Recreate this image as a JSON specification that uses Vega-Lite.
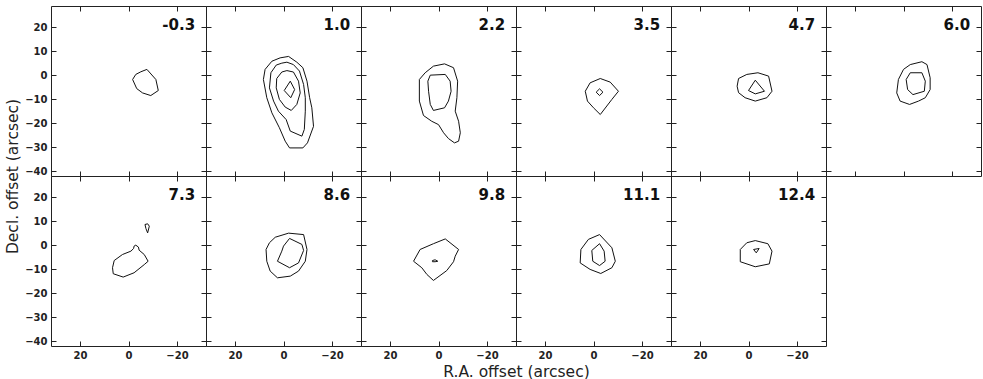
{
"$schema":"https://vega.github.io/schema/vega-lite/v6.json",
"background":"white",
"padding":{"left":5,"top":5,"right":0,"bottom":0},
"datasets":{"contours":[
{"ch":"-0.3","c":1,"x":-7.6,"y":2.4},{"ch":"-0.3","c":1,"x":-11.3,"y":-1.8},{"ch":"-0.3","c":1,"x":-12.3,"y":-6.4},{"ch":"-0.3","c":1,"x":-9.2,"y":-8.5},{"ch":"-0.3","c":1,"x":-5.8,"y":-7.4},{"ch":"-0.3","c":1,"x":-3.4,"y":-5.6},{"ch":"-0.3","c":1,"x":-1.7,"y":-1.8},{"ch":"-0.3","c":1,"x":-3.0,"y":0.3},{"ch":"-0.3","c":1,"x":-5.1,"y":1.4},
{"ch":"1.0","c":1,"x":-2.1,"y":7.8},{"ch":"1.0","c":1,"x":-5.5,"y":5.4},{"ch":"1.0","c":1,"x":-8.0,"y":3.1},{"ch":"1.0","c":1,"x":-9.7,"y":-2.5},{"ch":"1.0","c":1,"x":-10.8,"y":-9.4},{"ch":"1.0","c":1,"x":-11.7,"y":-13.6},{"ch":"1.0","c":1,"x":-12.4,"y":-21.3},{"ch":"1.0","c":1,"x":-9.9,"y":-28.2},{"ch":"1.0","c":1,"x":-8.0,"y":-30.3},{"ch":"1.0","c":1,"x":-2.5,"y":-30.3},{"ch":"1.0","c":1,"x":-0.7,"y":-27.5},{"ch":"1.0","c":1,"x":1.7,"y":-21.9},{"ch":"1.0","c":1,"x":4.8,"y":-15.7},{"ch":"1.0","c":1,"x":6.9,"y":-9.4},{"ch":"1.0","c":1,"x":8.3,"y":-1.8},{"ch":"1.0","c":1,"x":7.6,"y":2.4},{"ch":"1.0","c":1,"x":4.8,"y":5.8},{"ch":"1.0","c":1,"x":1.4,"y":7.2},
{"ch":"1.0","c":2,"x":-1.4,"y":5.4},{"ch":"1.0","c":2,"x":-4.1,"y":4.4},{"ch":"1.0","c":2,"x":-6.6,"y":1.7},{"ch":"1.0","c":2,"x":-8.3,"y":-3.9},{"ch":"1.0","c":2,"x":-9.0,"y":-9.4},{"ch":"1.0","c":2,"x":-9.0,"y":-15.0},{"ch":"1.0","c":2,"x":-8.6,"y":-22.6},{"ch":"1.0","c":2,"x":-7.6,"y":-25.4},{"ch":"1.0","c":2,"x":-2.8,"y":-23.3},{"ch":"1.0","c":2,"x":-1.1,"y":-18.5},{"ch":"1.0","c":2,"x":2.1,"y":-15.0},{"ch":"1.0","c":2,"x":4.1,"y":-10.8},{"ch":"1.0","c":2,"x":5.8,"y":-5.3},{"ch":"1.0","c":2,"x":5.2,"y":1.0},{"ch":"1.0","c":2,"x":3.0,"y":4.2},{"ch":"1.0","c":2,"x":0.7,"y":5.0},
{"ch":"1.0","c":3,"x":-1.4,"y":1.9},{"ch":"1.0","c":3,"x":-4.1,"y":1.3},{"ch":"1.0","c":3,"x":-6.2,"y":-2.5},{"ch":"1.0","c":3,"x":-6.9,"y":-7.4},{"ch":"1.0","c":3,"x":-5.5,"y":-12.2},{"ch":"1.0","c":3,"x":-3.2,"y":-14.7},{"ch":"1.0","c":3,"x":-0.7,"y":-13.3},{"ch":"1.0","c":3,"x":1.7,"y":-10.1},{"ch":"1.0","c":3,"x":3.0,"y":-5.3},{"ch":"1.0","c":3,"x":2.8,"y":-1.4},{"ch":"1.0","c":3,"x":0.7,"y":1.3},
{"ch":"1.0","c":4,"x":-2.8,"y":-2.5},{"ch":"1.0","c":4,"x":-4.6,"y":-6.0},{"ch":"1.0","c":4,"x":-3.0,"y":-9.4},{"ch":"1.0","c":4,"x":-0.3,"y":-6.4},
{"ch":"2.2","c":1,"x":2.1,"y":3.75},{"ch":"2.2","c":1,"x":-2.5,"y":4.7},{"ch":"2.2","c":1,"x":-6.2,"y":3.1},{"ch":"2.2","c":1,"x":-7.9,"y":-2.5},{"ch":"2.2","c":1,"x":-7.6,"y":-9.4},{"ch":"2.2","c":1,"x":-6.9,"y":-15.0},{"ch":"2.2","c":1,"x":-8.3,"y":-19.2},{"ch":"2.2","c":1,"x":-9.0,"y":-24.0},{"ch":"2.2","c":1,"x":-8.3,"y":-27.5},{"ch":"2.2","c":1,"x":-6.6,"y":-28.2},{"ch":"2.2","c":1,"x":-4.1,"y":-26.4},{"ch":"2.2","c":1,"x":-2.1,"y":-24.0},{"ch":"2.2","c":1,"x":0,"y":-20.6},{"ch":"2.2","c":1,"x":2.8,"y":-19.2},{"ch":"2.2","c":1,"x":6.2,"y":-16.8},{"ch":"2.2","c":1,"x":7.9,"y":-10.8},{"ch":"2.2","c":1,"x":7.9,"y":-1.8},{"ch":"2.2","c":1,"x":5.5,"y":1.0},
{"ch":"2.2","c":2,"x":3.4,"y":0},{"ch":"2.2","c":2,"x":-2.8,"y":0.3},{"ch":"2.2","c":2,"x":-4.8,"y":-2.5},{"ch":"2.2","c":2,"x":-5.2,"y":-6.7},{"ch":"2.2","c":2,"x":-4.1,"y":-10.8},{"ch":"2.2","c":2,"x":-2.5,"y":-13.6},{"ch":"2.2","c":2,"x":2.1,"y":-14.7},{"ch":"2.2","c":2,"x":3.4,"y":-12.2},{"ch":"2.2","c":2,"x":4.1,"y":-6.7},{"ch":"2.2","c":2,"x":4.4,"y":-2.5},
{"ch":"3.5","c":1,"x":-2.8,"y":-1.4},{"ch":"3.5","c":1,"x":-6.9,"y":-2.9},{"ch":"3.5","c":1,"x":-10.3,"y":-6.7},{"ch":"3.5","c":1,"x":-7.6,"y":-10.1},{"ch":"3.5","c":1,"x":-2.8,"y":-16.4},{"ch":"3.5","c":1,"x":0,"y":-13.6},{"ch":"3.5","c":1,"x":2.5,"y":-10.8},{"ch":"3.5","c":1,"x":3.4,"y":-6.7},{"ch":"3.5","c":1,"x":1.4,"y":-3.2},
{"ch":"3.5","c":2,"x":-2.5,"y":-5.7},{"ch":"3.5","c":2,"x":-3.9,"y":-7.1},{"ch":"3.5","c":2,"x":-2.5,"y":-8.5},{"ch":"3.5","c":2,"x":-1.1,"y":-7.1},
{"ch":"4.7","c":1,"x":4.1,"y":-1.4},{"ch":"4.7","c":1,"x":0.7,"y":0.3},{"ch":"4.7","c":1,"x":-3.9,"y":1.0},{"ch":"4.7","c":1,"x":-8.3,"y":-0.4},{"ch":"4.7","c":1,"x":-9.7,"y":-6.7},{"ch":"4.7","c":1,"x":-7.6,"y":-9.4},{"ch":"4.7","c":1,"x":-2.8,"y":-10.8},{"ch":"4.7","c":1,"x":1.4,"y":-9.4},{"ch":"4.7","c":1,"x":4.1,"y":-7.3},{"ch":"4.7","c":1,"x":4.7,"y":-4.6},
{"ch":"4.7","c":2,"x":-2.8,"y":-2.1},{"ch":"4.7","c":2,"x":-6.6,"y":-6.7},{"ch":"4.7","c":2,"x":-2.8,"y":-7.8},{"ch":"4.7","c":2,"x":0,"y":-6.4},
{"ch":"6.0","c":1,"x":-2.8,"y":4.4},{"ch":"6.0","c":1,"x":-7.6,"y":5.6},{"ch":"6.0","c":1,"x":-9.7,"y":4.4},{"ch":"6.0","c":1,"x":-11.0,"y":-1.1},{"ch":"6.0","c":1,"x":-11.0,"y":-6.0},{"ch":"6.0","c":1,"x":-9.0,"y":-9.4},{"ch":"6.0","c":1,"x":-6.2,"y":-10.8},{"ch":"6.0","c":1,"x":-2.5,"y":-12.2},{"ch":"6.0","c":1,"x":1.4,"y":-10.8},{"ch":"6.0","c":1,"x":2.8,"y":-7.4},{"ch":"6.0","c":1,"x":2.1,"y":-1.8},{"ch":"6.0","c":1,"x":0,"y":2.4},
{"ch":"6.0","c":2,"x":-2.8,"y":1.0},{"ch":"6.0","c":2,"x":-7.6,"y":1.0},{"ch":"6.0","c":2,"x":-9.0,"y":-2.5},{"ch":"6.0","c":2,"x":-8.6,"y":-6.7},{"ch":"6.0","c":2,"x":-3.9,"y":-8.1},{"ch":"6.0","c":2,"x":-1.7,"y":-6.0},{"ch":"6.0","c":2,"x":-1.1,"y":-1.8},
{"ch":"7.3","c":1,"x":-2.3,"y":-0.4},{"ch":"7.3","c":1,"x":-3.0,"y":0},{"ch":"7.3","c":1,"x":-4.1,"y":-0.8},{"ch":"7.3","c":1,"x":-4.4,"y":-2.1},{"ch":"7.3","c":1,"x":-6.5,"y":-3.9},{"ch":"7.3","c":1,"x":-8.1,"y":-6.7},{"ch":"7.3","c":1,"x":-6.5,"y":-8.1},{"ch":"7.3","c":1,"x":-2.3,"y":-11.5},{"ch":"7.3","c":1,"x":2.2,"y":-13.3},{"ch":"7.3","c":1,"x":6.3,"y":-11.9},{"ch":"7.3","c":1,"x":6.6,"y":-9.4},{"ch":"7.3","c":1,"x":5.9,"y":-6.4},{"ch":"7.3","c":1,"x":2.5,"y":-3.9},{"ch":"7.3","c":1,"x":-1.0,"y":-2.5},{"ch":"7.3","c":1,"x":-2.1,"y":-1.4},
{"ch":"7.3","c":2,"x":-6.8,"y":8.6},{"ch":"7.3","c":2,"x":-7.9,"y":8.9},{"ch":"7.3","c":2,"x":-8.6,"y":7.9},{"ch":"7.3","c":2,"x":-7.9,"y":5.1},{"ch":"7.3","c":2,"x":-7.2,"y":6.9},
{"ch":"8.6","c":1,"x":3.4,"y":3.3},{"ch":"8.6","c":1,"x":-2.1,"y":5.0},{"ch":"8.6","c":1,"x":-8.3,"y":4.4},{"ch":"8.6","c":1,"x":-9.7,"y":-1.8},{"ch":"8.6","c":1,"x":-9.0,"y":-6.7},{"ch":"8.6","c":1,"x":-6.2,"y":-10.8},{"ch":"8.6","c":1,"x":-2.8,"y":-12.9},{"ch":"8.6","c":1,"x":2.5,"y":-13.6},{"ch":"8.6","c":1,"x":5.5,"y":-10.8},{"ch":"8.6","c":1,"x":6.9,"y":-6.7},{"ch":"8.6","c":1,"x":7.2,"y":-1.8},{"ch":"8.6","c":1,"x":5.8,"y":1.0},
{"ch":"8.6","c":2,"x":-2.5,"y":2.8},{"ch":"8.6","c":2,"x":-7.6,"y":0.3},{"ch":"8.6","c":2,"x":-8.3,"y":-2.2},{"ch":"8.6","c":2,"x":-6.2,"y":-7.4},{"ch":"8.6","c":2,"x":-2.5,"y":-9.4},{"ch":"8.6","c":2,"x":2.5,"y":-6.7},{"ch":"8.6","c":2,"x":0.7,"y":-2.5},{"ch":"8.6","c":2,"x":0,"y":-0.4},
{"ch":"9.8","c":1,"x":-2.8,"y":2.6},{"ch":"9.8","c":1,"x":-8.3,"y":-1.8},{"ch":"9.8","c":1,"x":-6.9,"y":-4.6},{"ch":"9.8","c":1,"x":-6.2,"y":-6.9},{"ch":"9.8","c":1,"x":-3.4,"y":-10.6},{"ch":"9.8","c":1,"x":2.1,"y":-14.7},{"ch":"9.8","c":1,"x":4.8,"y":-12.2},{"ch":"9.8","c":1,"x":6.9,"y":-9.4},{"ch":"9.8","c":1,"x":10.3,"y":-6.7},{"ch":"9.8","c":1,"x":7.6,"y":-1.8},{"ch":"9.8","c":1,"x":2.1,"y":0.6},
{"ch":"9.8","c":2,"x":2.5,"y":-6.4},{"ch":"9.8","c":2,"x":1.4,"y":-6.1},{"ch":"9.8","c":2,"x":0.3,"y":-6.7},{"ch":"9.8","c":2,"x":1.4,"y":-6.9},{"ch":"9.8","c":2,"x":2.5,"y":-6.9},
{"ch":"11.1","c":1,"x":-2.5,"y":4.4},{"ch":"11.1","c":1,"x":-7.6,"y":-1.1},{"ch":"11.1","c":1,"x":-9.0,"y":-6.7},{"ch":"11.1","c":1,"x":-7.6,"y":-9.4},{"ch":"11.1","c":1,"x":-3.0,"y":-11.8},{"ch":"11.1","c":1,"x":1.4,"y":-10.1},{"ch":"11.1","c":1,"x":5.5,"y":-7.4},{"ch":"11.1","c":1,"x":5.2,"y":-1.8},{"ch":"11.1","c":1,"x":2.1,"y":2.4},
{"ch":"11.1","c":2,"x":-2.5,"y":0.6},{"ch":"11.1","c":2,"x":-4.4,"y":-2.5},{"ch":"11.1","c":2,"x":-4.8,"y":-6.7},{"ch":"11.1","c":2,"x":-2.5,"y":-8.5},{"ch":"11.1","c":2,"x":0.3,"y":-6.7},{"ch":"11.1","c":2,"x":0.7,"y":-2.2},
{"ch":"12.4","c":1,"x":-2.8,"y":1.9},{"ch":"12.4","c":1,"x":-8.0,"y":0.6},{"ch":"12.4","c":1,"x":-9.7,"y":-2.5},{"ch":"12.4","c":1,"x":-8.6,"y":-7.8},{"ch":"12.4","c":1,"x":-2.8,"y":-9.0},{"ch":"12.4","c":1,"x":3.4,"y":-6.9},{"ch":"12.4","c":1,"x":3.4,"y":-1.8},{"ch":"12.4","c":1,"x":0.7,"y":1.0},
{"ch":"12.4","c":2,"x":-2.1,"y":-1.8},{"ch":"12.4","c":2,"x":-4.4,"y":-1.4},{"ch":"12.4","c":2,"x":-3.2,"y":-3.2}
]},
"columns":6,
"spacing":0,
"bounds":"flush",
"concat":[
{"width":155,"height":170,"layer":[
 {"data":{"name":"contours"},"transform":[{"filter":"datum.ch === '-0.3'"}],"mark":{"type":"line","interpolate":"linear-closed","color":"#111","strokeWidth":1},
  "encoding":{"x":{"field":"x","type":"quantitative","scale":{"domain":[-32,32],"reverse":true,"nice":false,"zero":false},"axis":{"orient":"bottom","values":[20,0,-20],"labels":false,"title":null}},
  "y":{"field":"y","type":"quantitative","scale":{"domain":[-42,28.8],"nice":false,"zero":false},"axis":{"orient":"left","values":[20,10,0,-10,-20,-30,-40],"labels":true,"title":null}},
  "detail":{"field":"c"},"order":{"value":null}}},
 {"data":{"values":[{"ch":"-0.3"}]},"mark":{"type":"text","align":"right","baseline":"middle","font":"DejaVu Sans","fontWeight":"bold","fontSize":15,"color":"#111"},
  "encoding":{"text":{"field":"ch","type":"nominal"},"x":{"datum":-27.5,"type":"quantitative","axis":{"orient":"top","values":[20,0,-20],"labels":false,"title":null}},"y":{"datum":21,"type":"quantitative","axis":{"orient":"right","values":[20,10,0,-10,-20,-30,-40],"labels":false,"title":null}}}}
],"resolve":{"axis":{"x":"independent","y":"independent"}}},
{"width":155,"height":170,"layer":[
 {"data":{"name":"contours"},"transform":[{"filter":"datum.ch === '1.0'"}],"mark":{"type":"line","interpolate":"linear-closed","color":"#111","strokeWidth":1},
  "encoding":{"x":{"field":"x","type":"quantitative","scale":{"domain":[-32,32],"reverse":true,"nice":false,"zero":false},"axis":{"orient":"bottom","values":[20,0,-20],"labels":false,"title":null}},
  "y":{"field":"y","type":"quantitative","scale":{"domain":[-42,28.8],"nice":false,"zero":false},"axis":{"orient":"left","values":[20,10,0,-10,-20,-30,-40],"labels":false,"title":null}},
  "detail":{"field":"c"},"order":{"value":null}}},
 {"data":{"values":[{"ch":"1.0"}]},"mark":{"type":"text","align":"right","baseline":"middle","font":"DejaVu Sans","fontWeight":"bold","fontSize":15,"color":"#111"},
  "encoding":{"text":{"field":"ch","type":"nominal"},"x":{"datum":-27.5,"type":"quantitative","axis":{"orient":"top","values":[20,0,-20],"labels":false,"title":null}},"y":{"datum":21,"type":"quantitative","axis":{"orient":"right","values":[20,10,0,-10,-20,-30,-40],"labels":false,"title":null}}}}
],"resolve":{"axis":{"x":"independent","y":"independent"}}},
{"width":155,"height":170,"layer":[
 {"data":{"name":"contours"},"transform":[{"filter":"datum.ch === '2.2'"}],"mark":{"type":"line","interpolate":"linear-closed","color":"#111","strokeWidth":1},
  "encoding":{"x":{"field":"x","type":"quantitative","scale":{"domain":[-32,32],"reverse":true,"nice":false,"zero":false},"axis":{"orient":"bottom","values":[20,0,-20],"labels":false,"title":null}},
  "y":{"field":"y","type":"quantitative","scale":{"domain":[-42,28.8],"nice":false,"zero":false},"axis":{"orient":"left","values":[20,10,0,-10,-20,-30,-40],"labels":false,"title":null}},
  "detail":{"field":"c"},"order":{"value":null}}},
 {"data":{"values":[{"ch":"2.2"}]},"mark":{"type":"text","align":"right","baseline":"middle","font":"DejaVu Sans","fontWeight":"bold","fontSize":15,"color":"#111"},
  "encoding":{"text":{"field":"ch","type":"nominal"},"x":{"datum":-27.5,"type":"quantitative","axis":{"orient":"top","values":[20,0,-20],"labels":false,"title":null}},"y":{"datum":21,"type":"quantitative","axis":{"orient":"right","values":[20,10,0,-10,-20,-30,-40],"labels":false,"title":null}}}}
],"resolve":{"axis":{"x":"independent","y":"independent"}}},
{"width":155,"height":170,"layer":[
 {"data":{"name":"contours"},"transform":[{"filter":"datum.ch === '3.5'"}],"mark":{"type":"line","interpolate":"linear-closed","color":"#111","strokeWidth":1},
  "encoding":{"x":{"field":"x","type":"quantitative","scale":{"domain":[-32,32],"reverse":true,"nice":false,"zero":false},"axis":{"orient":"bottom","values":[20,0,-20],"labels":false,"title":null}},
  "y":{"field":"y","type":"quantitative","scale":{"domain":[-42,28.8],"nice":false,"zero":false},"axis":{"orient":"left","values":[20,10,0,-10,-20,-30,-40],"labels":false,"title":null}},
  "detail":{"field":"c"},"order":{"value":null}}},
 {"data":{"values":[{"ch":"3.5"}]},"mark":{"type":"text","align":"right","baseline":"middle","font":"DejaVu Sans","fontWeight":"bold","fontSize":15,"color":"#111"},
  "encoding":{"text":{"field":"ch","type":"nominal"},"x":{"datum":-27.5,"type":"quantitative","axis":{"orient":"top","values":[20,0,-20],"labels":false,"title":null}},"y":{"datum":21,"type":"quantitative","axis":{"orient":"right","values":[20,10,0,-10,-20,-30,-40],"labels":false,"title":null}}}}
],"resolve":{"axis":{"x":"independent","y":"independent"}}},
{"width":155,"height":170,"layer":[
 {"data":{"name":"contours"},"transform":[{"filter":"datum.ch === '4.7'"}],"mark":{"type":"line","interpolate":"linear-closed","color":"#111","strokeWidth":1},
  "encoding":{"x":{"field":"x","type":"quantitative","scale":{"domain":[-32,32],"reverse":true,"nice":false,"zero":false},"axis":{"orient":"bottom","values":[20,0,-20],"labels":false,"title":null}},
  "y":{"field":"y","type":"quantitative","scale":{"domain":[-42,28.8],"nice":false,"zero":false},"axis":{"orient":"left","values":[20,10,0,-10,-20,-30,-40],"labels":false,"title":null}},
  "detail":{"field":"c"},"order":{"value":null}}},
 {"data":{"values":[{"ch":"4.7"}]},"mark":{"type":"text","align":"right","baseline":"middle","font":"DejaVu Sans","fontWeight":"bold","fontSize":15,"color":"#111"},
  "encoding":{"text":{"field":"ch","type":"nominal"},"x":{"datum":-27.5,"type":"quantitative","axis":{"orient":"top","values":[20,0,-20],"labels":false,"title":null}},"y":{"datum":21,"type":"quantitative","axis":{"orient":"right","values":[20,10,0,-10,-20,-30,-40],"labels":false,"title":null}}}}
],"resolve":{"axis":{"x":"independent","y":"independent"}}},
{"width":155,"height":170,"layer":[
 {"data":{"name":"contours"},"transform":[{"filter":"datum.ch === '6.0'"}],"mark":{"type":"line","interpolate":"linear-closed","color":"#111","strokeWidth":1},
  "encoding":{"x":{"field":"x","type":"quantitative","scale":{"domain":[-32,32],"reverse":true,"nice":false,"zero":false},"axis":{"orient":"bottom","values":[20,0,-20],"labels":false,"title":null}},
  "y":{"field":"y","type":"quantitative","scale":{"domain":[-42,28.8],"nice":false,"zero":false},"axis":{"orient":"left","values":[20,10,0,-10,-20,-30,-40],"labels":false,"title":null}},
  "detail":{"field":"c"},"order":{"value":null}}},
 {"data":{"values":[{"ch":"6.0"}]},"mark":{"type":"text","align":"right","baseline":"middle","font":"DejaVu Sans","fontWeight":"bold","fontSize":15,"color":"#111"},
  "encoding":{"text":{"field":"ch","type":"nominal"},"x":{"datum":-27.5,"type":"quantitative","axis":{"orient":"top","values":[20,0,-20],"labels":false,"title":null}},"y":{"datum":21,"type":"quantitative","axis":{"orient":"right","values":[20,10,0,-10,-20,-30,-40],"labels":false,"title":null}}}}
],"resolve":{"axis":{"x":"independent","y":"independent"}}},
{"width":155,"height":170,"layer":[
 {"data":{"name":"contours"},"transform":[{"filter":"datum.ch === '7.3'"}],"mark":{"type":"line","interpolate":"linear-closed","color":"#111","strokeWidth":1},
  "encoding":{"x":{"field":"x","type":"quantitative","scale":{"domain":[-32,32],"reverse":true,"nice":false,"zero":false},"axis":{"orient":"bottom","values":[20,0,-20],"labels":true,"title":null}},
  "y":{"field":"y","type":"quantitative","scale":{"domain":[-42,28.8],"nice":false,"zero":false},"axis":{"orient":"left","values":[20,10,0,-10,-20,-30,-40],"labels":true,"title":"Decl. offset (arcsec)","titleAnchor":"end","titleAlign":"center"}},
  "detail":{"field":"c"},"order":{"value":null}}},
 {"data":{"values":[{"ch":"7.3"}]},"mark":{"type":"text","align":"right","baseline":"middle","font":"DejaVu Sans","fontWeight":"bold","fontSize":15,"color":"#111"},
  "encoding":{"text":{"field":"ch","type":"nominal"},"x":{"datum":-27.5,"type":"quantitative","axis":{"orient":"top","values":[20,0,-20],"labels":false,"title":null}},"y":{"datum":21,"type":"quantitative","axis":{"orient":"right","values":[20,10,0,-10,-20,-30,-40],"labels":false,"title":null}}}}
],"resolve":{"axis":{"x":"independent","y":"independent"}}},
{"width":155,"height":170,"layer":[
 {"data":{"name":"contours"},"transform":[{"filter":"datum.ch === '8.6'"}],"mark":{"type":"line","interpolate":"linear-closed","color":"#111","strokeWidth":1},
  "encoding":{"x":{"field":"x","type":"quantitative","scale":{"domain":[-32,32],"reverse":true,"nice":false,"zero":false},"axis":{"orient":"bottom","values":[20,0,-20],"labels":true,"title":null}},
  "y":{"field":"y","type":"quantitative","scale":{"domain":[-42,28.8],"nice":false,"zero":false},"axis":{"orient":"left","values":[20,10,0,-10,-20,-30,-40],"labels":false,"title":null}},
  "detail":{"field":"c"},"order":{"value":null}}},
 {"data":{"values":[{"ch":"8.6"}]},"mark":{"type":"text","align":"right","baseline":"middle","font":"DejaVu Sans","fontWeight":"bold","fontSize":15,"color":"#111"},
  "encoding":{"text":{"field":"ch","type":"nominal"},"x":{"datum":-27.5,"type":"quantitative","axis":{"orient":"top","values":[20,0,-20],"labels":false,"title":null}},"y":{"datum":21,"type":"quantitative","axis":{"orient":"right","values":[20,10,0,-10,-20,-30,-40],"labels":false,"title":null}}}}
],"resolve":{"axis":{"x":"independent","y":"independent"}}},
{"width":155,"height":170,"layer":[
 {"data":{"name":"contours"},"transform":[{"filter":"datum.ch === '9.8'"}],"mark":{"type":"line","interpolate":"linear-closed","color":"#111","strokeWidth":1},
  "encoding":{"x":{"field":"x","type":"quantitative","scale":{"domain":[-32,32],"reverse":true,"nice":false,"zero":false},"axis":{"orient":"bottom","values":[20,0,-20],"labels":true,"title":null}},
  "y":{"field":"y","type":"quantitative","scale":{"domain":[-42,28.8],"nice":false,"zero":false},"axis":{"orient":"left","values":[20,10,0,-10,-20,-30,-40],"labels":false,"title":null}},
  "detail":{"field":"c"},"order":{"value":null}}},
 {"data":{"values":[{"ch":"9.8"}]},"mark":{"type":"text","align":"right","baseline":"middle","font":"DejaVu Sans","fontWeight":"bold","fontSize":15,"color":"#111"},
  "encoding":{"text":{"field":"ch","type":"nominal"},"x":{"datum":-27.5,"type":"quantitative","axis":{"orient":"top","values":[20,0,-20],"labels":false,"title":null}},"y":{"datum":21,"type":"quantitative","axis":{"orient":"right","values":[20,10,0,-10,-20,-30,-40],"labels":false,"title":null}}}}
],"resolve":{"axis":{"x":"independent","y":"independent"}}},
{"width":155,"height":170,"layer":[
 {"data":{"name":"contours"},"transform":[{"filter":"datum.ch === '11.1'"}],"mark":{"type":"line","interpolate":"linear-closed","color":"#111","strokeWidth":1},
  "encoding":{"x":{"field":"x","type":"quantitative","scale":{"domain":[-32,32],"reverse":true,"nice":false,"zero":false},"axis":{"orient":"bottom","values":[20,0,-20],"labels":true,"title":"R.A. offset (arcsec)","titleAnchor":"end","titleAlign":"center"}},
  "y":{"field":"y","type":"quantitative","scale":{"domain":[-42,28.8],"nice":false,"zero":false},"axis":{"orient":"left","values":[20,10,0,-10,-20,-30,-40],"labels":false,"title":null}},
  "detail":{"field":"c"},"order":{"value":null}}},
 {"data":{"values":[{"ch":"11.1"}]},"mark":{"type":"text","align":"right","baseline":"middle","font":"DejaVu Sans","fontWeight":"bold","fontSize":15,"color":"#111"},
  "encoding":{"text":{"field":"ch","type":"nominal"},"x":{"datum":-27.5,"type":"quantitative","axis":{"orient":"top","values":[20,0,-20],"labels":false,"title":null}},"y":{"datum":21,"type":"quantitative","axis":{"orient":"right","values":[20,10,0,-10,-20,-30,-40],"labels":false,"title":null}}}}
],"resolve":{"axis":{"x":"independent","y":"independent"}}},
{"width":155,"height":170,"layer":[
 {"data":{"name":"contours"},"transform":[{"filter":"datum.ch === '12.4'"}],"mark":{"type":"line","interpolate":"linear-closed","color":"#111","strokeWidth":1},
  "encoding":{"x":{"field":"x","type":"quantitative","scale":{"domain":[-32,32],"reverse":true,"nice":false,"zero":false},"axis":{"orient":"bottom","values":[20,0,-20],"labels":true,"title":null}},
  "y":{"field":"y","type":"quantitative","scale":{"domain":[-42,28.8],"nice":false,"zero":false},"axis":{"orient":"left","values":[20,10,0,-10,-20,-30,-40],"labels":false,"title":null}},
  "detail":{"field":"c"},"order":{"value":null}}},
 {"data":{"values":[{"ch":"12.4"}]},"mark":{"type":"text","align":"right","baseline":"middle","font":"DejaVu Sans","fontWeight":"bold","fontSize":15,"color":"#111"},
  "encoding":{"text":{"field":"ch","type":"nominal"},"x":{"datum":-27.5,"type":"quantitative","axis":{"orient":"top","values":[20,0,-20],"labels":false,"title":null}},"y":{"datum":21,"type":"quantitative","axis":{"orient":"right","values":[20,10,0,-10,-20,-30,-40],"labels":false,"title":null}}}}
],"resolve":{"axis":{"x":"independent","y":"independent"}}}
],
"config":{
 "view":{"stroke":"#222","strokeWidth":1},
 "axis":{"grid":false,"domain":false,"ticks":true,"tickSize":-5,"tickColor":"#222","tickWidth":1,"labelFont":"DejaVu Sans","labelFontWeight":"bold","labelFontSize":10,"labelColor":"#222","labelPadding":9,"titleFont":"DejaVu Sans","titleFontWeight":"normal","titleFontSize":15.5,"titleColor":"#222","titlePadding":4}
}
}
